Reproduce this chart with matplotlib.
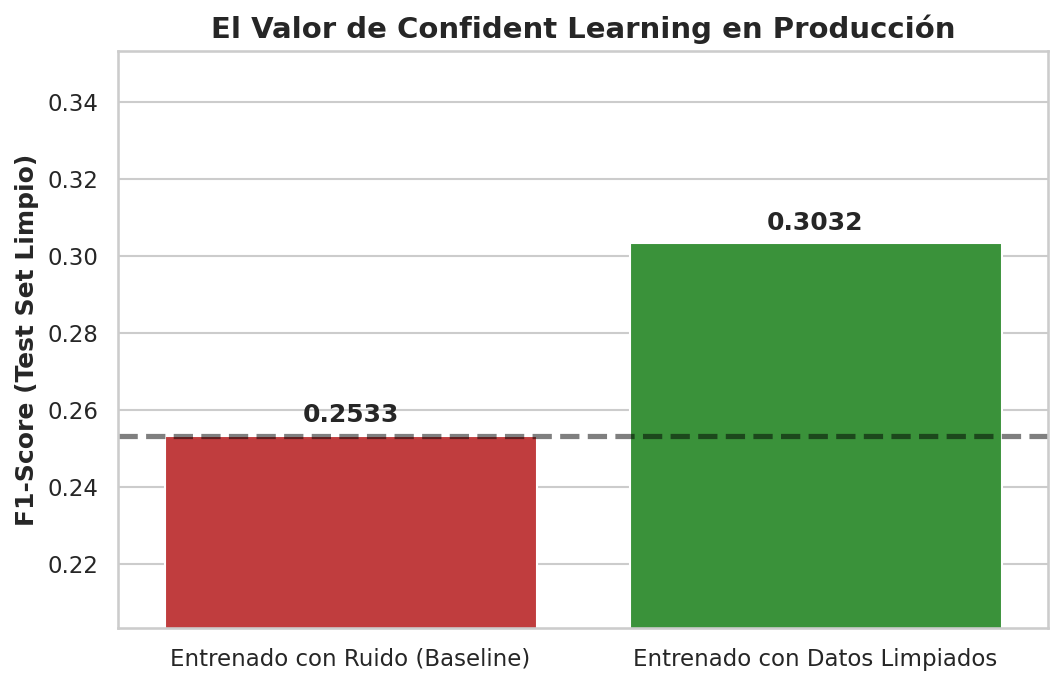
import matplotlib
matplotlib.use("Agg")
import matplotlib.pyplot as plt
import seaborn as sns

sns.set_theme(style="whitegrid")

modelos = ["Entrenado con Ruido (Baseline)", "Entrenado con Datos Limpiados"]
f1_scores = [0.2533, 0.3032]
colores = ["#d62728", "#2ca02c"]

fig, ax = plt.subplots(figsize=(1063 / 150, 686 / 150), dpi=150)
sns.barplot(x=modelos, y=f1_scores, hue=modelos, palette=colores, legend=False, ax=ax)

ax.axhline(f1_scores[0], color="black", linestyle="--", linewidth=2.5, alpha=0.5)
ax.set_ylim(min(f1_scores) - 0.05, max(f1_scores) + 0.05)

for i, v in enumerate(f1_scores):
    ax.text(i, v + 0.0022, f"{v:.4f}", ha="center", va="bottom", fontsize=12, fontweight="bold")

ax.set_title("El Valor de Confident Learning en Producción", fontsize=14, fontweight="bold")
ax.set_ylabel("F1-Score (Test Set Limpio)", fontsize=12, fontweight="bold")
ax.set_xlabel("")

fig.subplots_adjust(left=118 / 1063, right=1048 / 1063, top=1 - 51 / 686, bottom=1 - 628 / 686)
plt.savefig("out.png", dpi=150)
